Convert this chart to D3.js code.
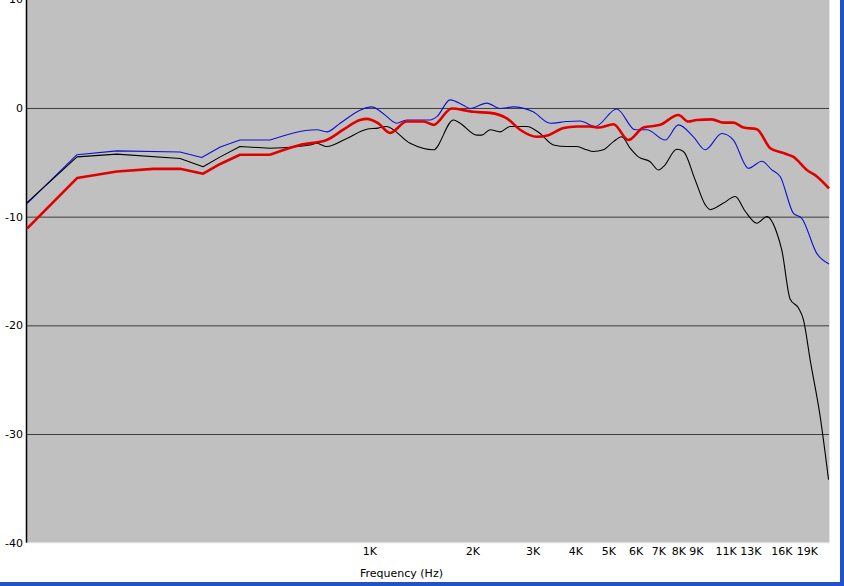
<!DOCTYPE html>
<html>
<head>
<meta charset="utf-8">
<script src="https://cdn.jsdelivr.net/npm/d3@7"></script>
<style>
  body { margin: 0; background: #fff; }
  svg { display: block; }
  text { font-family: "DejaVu Sans", sans-serif; font-size: 11px; fill: #000; }
</style>
</head>
<body>
<div id="chart-area"></div>
<script>
// tick labels
var xTicks = [1000, 2000, 3000, 4000, 5000, 6000, 7000, 8000, 9000, 11000, 13000, 16000, 19000];
var yTicks = [10, 0, -10, -20, -30, -40];

// blue trace
var blueFreq = [100, 140, 183, 280, 324, 367, 419, 513, 703, 751, 822, 940, 1017, 1098, 1203, 1287, 1506, 1576, 1723, 1884, 1971, 2205, 2412, 2632, 3012, 3378, 3779, 4133, 4573, 5290, 5983, 6475, 7322, 8007, 8857, 9587, 10726, 11590, 12827, 14040, 15013, 15877, 17363, 18363, 20325, 22050];
var blueDb = [-8.8, -4.3, -3.95, -4.05, -4.55, -3.6, -2.95, -2.95, -2.0, -2.2, -1.4, -0.2, 0.1, -0.5, -1.4, -1.1, -1.1, -0.8, 0.75, 0.25, -0.05, 0.45, -0.05, 0.1, -0.35, -1.4, -1.25, -1.2, -1.7, -0.1, -2.0, -2.0, -2.95, -1.55, -2.65, -3.85, -2.35, -2.95, -5.55, -4.9, -5.7, -6.3, -9.7, -10.15, -13.4, -14.35];

// black trace
var blackFreq = [100, 140, 183, 280, 327, 367, 419, 513, 672, 703, 751, 860, 984, 1061, 1120, 1316, 1540, 1762, 1843, 2062, 2133, 2255, 2412, 2580, 2887, 3158, 3453, 3779, 4042, 4323, 4510, 4833, 5170, 5470, 5785, 6117, 6622, 6998, 7240, 7924, 8283, 8956, 9587, 9912, 10840, 11730, 12545, 13567, 14515, 15527, 16058, 16983, 17954, 18572, 19430, 20780, 21980];
var blackDb = [-8.7, -4.5, -4.25, -4.65, -5.4, -4.5, -3.55, -3.7, -3.4, -3.25, -3.55, -2.8, -1.95, -1.85, -1.7, -3.25, -3.85, -1.1, -1.4, -2.5, -2.5, -2.0, -2.2, -1.7, -1.7, -2.35, -3.4, -3.55, -3.55, -3.85, -4.0, -3.85, -3.1, -2.65, -3.7, -4.5, -4.95, -5.7, -5.4, -3.8, -4.0, -6.6, -8.9, -9.35, -8.75, -8.15, -9.5, -10.6, -10.0, -11.5, -13.1, -17.6, -18.4, -19.5, -23.2, -28.4, -34.2];

// red trace
var redFreq = [100, 140, 183, 234, 280, 327, 367, 419, 513, 628, 751, 840, 940, 984, 1061, 1150, 1287, 1440, 1540, 1742, 1928, 2015, 2255, 2523, 2759, 3089, 3338, 3693, 4042, 4420, 4675, 5170, 5720, 6327, 7081, 8007, 8563, 9063, 10023, 10840, 11590, 12400, 13567, 14846, 16236, 17363, 19000, 20325, 22050];
var redDb = [-11.1, -6.45, -5.85, -5.6, -5.6, -6.05, -5.15, -4.3, -4.3, -3.4, -2.95, -2.0, -1.1, -1.0, -1.4, -2.3, -1.25, -1.25, -1.55, -0.05, -0.25, -0.35, -0.45, -0.95, -2.0, -2.65, -2.5, -1.85, -1.7, -1.7, -1.8, -1.5, -2.95, -1.8, -1.55, -0.65, -1.25, -1.1, -1.05, -1.35, -1.35, -1.8, -1.95, -3.7, -4.15, -4.5, -5.7, -6.3, -7.4];

var svgWidth = 844, svgHeight = 586;
var plot = { left: 27, right: 829, top: -0.7, bottom: 542.7 };
var smoothFrom = 513; // below this the traces are drawn with straight segments

var svg = d3.select("#chart-area")
    .append("svg")
    .attr("width", svgWidth)
    .attr("height", svgHeight);

var x = d3.scaleLog()
    .domain([100, 22050])
    .range([plot.left, plot.right]);

var y = d3.scaleLinear()
    .domain([-40, 10])
    .range([plot.bottom, plot.top]);

// gray plot area
svg.append("rect")
    .attr("x", plot.left)
    .attr("y", 0)
    .attr("width", plot.right - plot.left)
    .attr("height", y(-40))
    .attr("fill", "#c0c0c0");

// right / bottom light edges
svg.append("line")
    .attr("x1", plot.right + 0.5).attr("x2", plot.right + 0.5)
    .attr("y1", 0).attr("y2", y(-40))
    .attr("stroke", "#e4e4e4");
svg.append("line")
    .attr("x1", plot.left).attr("x2", plot.right)
    .attr("y1", y(-40) + 0.5).attr("y2", y(-40) + 0.5)
    .attr("stroke", "#f4f4f4");

// horizontal grid lines
var grid = svg.append("g")
    .attr("class", "grid")
    .attr("transform", "translate(" + plot.left + ",0)")
    .call(d3.axisLeft(y)
        .tickValues([0, -10, -20, -30])
        .tickSize(-(plot.right - plot.left))
        .tickFormat(""));
grid.select(".domain").remove();
grid.selectAll("line").attr("stroke", "#3c3c3c");

// left axis line
svg.append("line")
    .attr("x1", plot.left - 0.5).attr("x2", plot.left - 0.5)
    .attr("y1", 0).attr("y2", y(-40))
    .attr("stroke", "#000")
    .attr("stroke-width", 1.5);

// Y labels
var yAxis = svg.append("g")
    .attr("class", "y axis")
    .attr("transform", "translate(" + plot.left + ",0)")
    .call(d3.axisLeft(y)
        .tickValues(yTicks)
        .tickSize(0)
        .tickPadding(4)
        .tickFormat(function (d) { return String(d); }));
yAxis.select(".domain").remove();
yAxis.selectAll("text").style("font-family", "DejaVu Sans").style("font-size", "11px");

// X labels
var xAxis = svg.append("g")
    .attr("class", "x axis")
    .attr("transform", "translate(0," + y(-40) + ")")
    .call(d3.axisBottom(x)
        .tickValues(xTicks)
        .tickSize(0)
        .tickPadding(5)
        .tickFormat(function (d) { return (d / 1000) + "K"; }));
xAxis.select(".domain").remove();
xAxis.selectAll("text").style("font-family", "DejaVu Sans").style("font-size", "11px");

// X label
svg.append("text")
    .attr("x", 360)
    .attr("y", 577)
    .text("Frequency (Hz)");

// traces: straight low-frequency part, smooth above
var lineStraight = d3.line()
    .x(function (d) { return x(d[0]); })
    .y(function (d) { return y(d[1]); });

var lineSmooth = d3.line()
    .x(function (d) { return x(d[0]); })
    .y(function (d) { return y(d[1]); })
    .curve(d3.curveMonotoneX);

var traces = [
    { f: blueFreq, v: blueDb, color: "#1010d0", w: 1.1 },
    { f: blackFreq, v: blackDb, color: "#000000", w: 1.1 },
    { f: redFreq, v: redDb, color: "#e00000", w: 2.6 }
];

traces.forEach(function (t) {
    var pts = d3.zip(t.f, t.v);
    var low = pts.filter(function (d) { return d[0] <= smoothFrom; });
    var high = pts.filter(function (d) { return d[0] >= smoothFrom; });
    [[low, lineStraight], [high, lineSmooth]].forEach(function (p) {
        svg.append("path")
            .datum(p[0])
            .attr("fill", "none")
            .attr("stroke", t.color)
            .attr("stroke-width", t.w)
            .attr("stroke-linejoin", "round")
            .attr("d", p[1]);
    });
});

// window frame edges
svg.append("rect")
    .attr("x", 840).attr("y", 0)
    .attr("width", 4).attr("height", svgHeight)
    .attr("fill", "#2352c6");
svg.append("rect")
    .attr("x", 0).attr("y", 582)
    .attr("width", svgWidth).attr("height", 4)
    .attr("fill", "#2352c6");
</script>
</body>
</html>
